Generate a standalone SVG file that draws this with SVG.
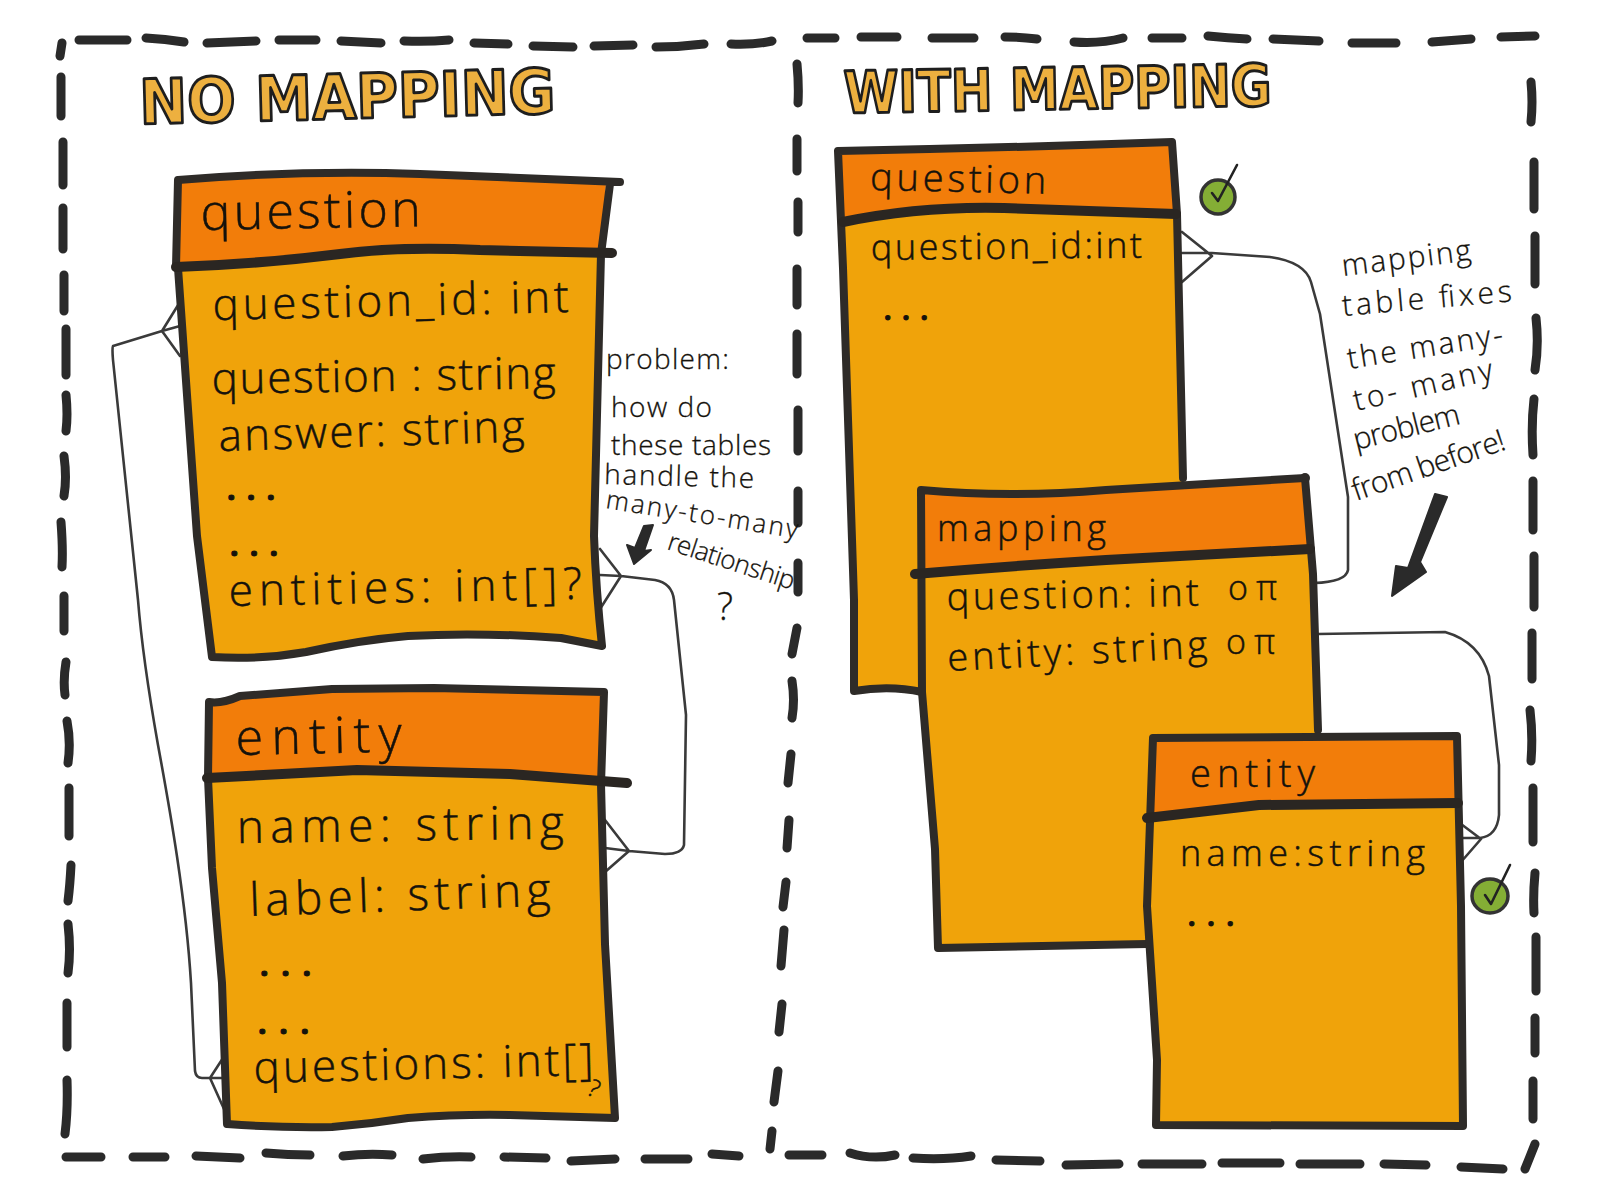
<svg xmlns="http://www.w3.org/2000/svg" width="1600" height="1200" viewBox="0 0 1600 1200">
<style>
.bg{fill:#fff}
.dash{fill:none;stroke:#2a2a2a;stroke-width:9;stroke-linecap:round}
.head{fill:#F27D0A}
.body{fill:#F0A30A}
.edge{fill:none;stroke:#2e2b28;stroke-width:8;stroke-linecap:round;stroke-linejoin:round}
.rule{fill:none;stroke:#2a2622;stroke-width:10;stroke-linecap:round;stroke-linejoin:round}
.conn{fill:none;stroke:#3a3a3a;stroke-width:2.6;stroke-linecap:round;stroke-linejoin:round}
.t{font-family:"Open Sans","Noto Sans",sans-serif;font-weight:300;fill:#15120c;stroke:#15120c;stroke-width:.5}
.dots{font-family:"Open Sans","Noto Sans",sans-serif;font-weight:700;fill:#15120c;stroke:#15120c;stroke-width:1}
.note{font-family:"Open Sans","Noto Sans",sans-serif;font-weight:300;fill:#15120c;stroke:#15120c;stroke-width:.3}
.title{font-family:"DejaVu Sans",sans-serif;font-weight:700;fill:#EDB03F;stroke:#1e1e1e;stroke-width:3;stroke-linejoin:round}
.ok{fill:#84AE35;stroke:#333;stroke-width:3.5}
.tick{fill:none;stroke:#222;stroke-width:2.6;stroke-linecap:round;stroke-linejoin:round}
.ink{fill:#2a2a2a;stroke:#2a2a2a;stroke-width:2;stroke-linejoin:round}
</style>
<rect class="bg" width="1600" height="1200"/>
<g id="frame">
<path class="dash" d="M79 40H127M146 38Q165 39 184 42M207 43L256 41M279 40H316M341 41L381 43M404 41Q428 42 449 40M474 43L508 44M533 46L573 47M594 46L633 45M656 47Q680 47 704 44M731 44Q755 45 772 41"/>
<path class="dash" d="M807 38H835M861 37H897M932 38H974M1005 37Q1020 37 1037 39M1074 42Q1100 44 1123 38M1152 38H1182M1208 36Q1228 38 1247 39M1273 39L1319 41M1352 43H1396M1432 42L1471 39M1501 37L1535 36"/>
<path class="dash" d="M62 43L60 56M61 77V116M63 142V185M63 208V249M64 275V311M66 329V375M66 395Q68 415 66 431M64 456Q67 478 64 496M61 522Q63 548 62 567M64 596V631M66 662Q63 680 65 695M67 721Q71 742 68 763M69 788V836M71 865Q70 885 68 901M68 924Q71 950 68 973M67 1003V1047M67 1080Q68 1110 65 1134"/>
<path class="dash" d="M797 64Q799 85 798 103M797 139V171M798 202V232M797 269V305M797 334V374M798 410V451M798 491V523M798 563V592M797 628L792 654M792 681Q795 700 792 718M791 754L788 783M789 820L787 848M786 882L783 907M784 930L781 966M782 1004L779 1032M778 1071L774 1102M772 1131L770 1149"/>
<path class="dash" d="M1531 82Q1533 102 1531 122M1534 162V209M1535 236V284M1536 318Q1539 345 1535 370M1534 399Q1531 425 1533 455M1533 481V530M1534 556V607M1532 633V679M1530 710Q1533 735 1531 761M1533 788V842M1535 873Q1533 895 1534 913M1536 937V991M1535 1018V1053M1533 1081V1119M1535 1144L1525 1169"/>
<path class="dash" d="M66 1157H101M133 1157H165M196 1156L240 1158M266 1153Q288 1155 310 1155M343 1156Q368 1153 392 1155M423 1159Q448 1156 471 1157M504 1157L546 1158M571 1161L615 1159M645 1159H688M712 1154L739 1156M789 1155H822M850 1153Q872 1160 895 1155M913 1158Q945 1160 971 1156M996 1160L1040 1161M1066 1165L1119 1164M1142 1164H1202M1222 1163H1280M1300 1164L1360 1164M1384 1164L1426 1165M1461 1167L1503 1169"/>
</g>
<g id="connectors">
<path class="conn" d="M180 302L162 331L180 356M180 326L162 331L113 346Q112 348 113 360L138 600C142 650 150 700 158 745C170 810 186 900 191 983L195 1071Q196 1078 202 1078H224M225 1055L210 1078L224 1109"/>
<path class="conn" d="M600 549L621 576L600 609M600 575L621 576L655 580Q672 583 674 600L686 715L684 845Q682 854 665 854L629 851M605 820L629 851L605 872M605 848L629 851"/>
<path class="conn" d="M1182 232L1212 256L1182 282M1182 253L1212 253L1270 257Q1305 262 1311 282L1320 314L1348 497V570Q1346 582 1314 583"/>
<path class="conn" d="M1318 634L1445 632Q1480 642 1489 676L1499 765V815Q1497 836 1480 838H1459M1461 824L1481 839L1461 862"/>
</g>
<g id="question-left">
<path class="body" d="M176 240L197 536L212 657Q260 660 306 652Q360 640 408 636Q480 632 561 638L602 646Q596 590 594 536L601 240Z"/>
<path class="head" d="M178 180Q300 170 420 174L606 184L601 253L480 250Q400 246 340 254Q260 264 176 267Z"/>
<path class="edge" d="M176 267L178 180Q300 170 420 174L620 182M610 184L601 254L594 536Q596 590 602 646L561 638Q480 632 408 636Q360 640 306 652Q260 660 212 657L197 536L178 268"/>
<path class="rule" d="M176 267Q260 264 340 254Q400 246 480 250L612 253"/>
<text class="t" font-size="50" x="201" y="230" textLength="220" transform="rotate(-1 201 230)">question</text>
<text class="t" font-size="44" x="213" y="320" textLength="356" transform="rotate(-1.3 213 320)">question_id: int</text>
<text class="t" font-size="44" x="212" y="394" textLength="344" transform="rotate(-1 212 394)">question : string</text>
<text class="t" font-size="44" x="219" y="451" textLength="306" transform="rotate(-1.8 219 451)">answer: string</text>
<text class="dots" font-size="30" x="227" y="500" textLength="48">...</text>
<text class="dots" font-size="30" x="230" y="556" textLength="48">...</text>
<text class="t" font-size="44" x="229" y="606" textLength="353" transform="rotate(-1.2 229 606)">entities: int[]?</text>
</g>
<g id="entity-left">
<path class="body" d="M208 760L212 868L222 983L227 1124Q280 1128 332 1127Q370 1124 408 1118Q460 1114 510 1115L615 1118L605 944L601 760Z"/>
<path class="head" d="M209 702Q222 704 240 696L332 689L434 688L604 692L601 780L510 774L357 770L208 778Z"/>
<path class="edge" d="M208 778L209 702Q222 704 240 696L332 689L434 688L604 692L601 784L605 944L615 1118L510 1115Q460 1114 408 1118Q370 1124 332 1127Q280 1128 227 1124L222 983L212 868L208 778"/>
<path class="rule" d="M207 778L357 770L510 774L627 783"/>
<text class="t" font-size="50" x="236" y="755" textLength="166" transform="rotate(-1.2 236 755)">entity</text>
<text class="t" font-size="46" x="237" y="843" textLength="327" transform="rotate(-.8 237 843)">name: string</text>
<text class="t" font-size="46" x="250" y="916" textLength="301" transform="rotate(-2 250 916)">label: string</text>
<text class="dots" font-size="30" x="260" y="976" textLength="51">...</text>
<text class="dots" font-size="30" x="258" y="1034" textLength="51">...</text>
<text class="t" font-size="44" x="254" y="1083" textLength="340" transform="rotate(-1.4 254 1083)">questions: int[]</text>
<text class="t" font-size="24" x="586" y="1094" transform="rotate(25 586 1094)">?</text>
</g>
<g id="question-right">
<path class="body" d="M842 190L843 268L854 600V691Q890 685 930 692V510L1183 510L1177 190Z"/>
<path class="head" d="M838 151Q1000 148 1172 142L1177 214L1004 208Q920 206 843 222Z"/>
<path class="edge" d="M838 151Q1000 148 1172 142L1177 214L1183 478M838 151L843 268L854 600L854 691Q890 685 922 692"/>
<path class="rule" d="M843 222Q920 206 1004 208L1176 214"/>
<text class="t" font-size="38" x="870" y="190" textLength="176" transform="rotate(1.2 870 190)">question</text>
<text class="t" font-size="36" x="871" y="260" textLength="271" transform="rotate(-.5 871 260)">question_id:int</text>
<text class="dots" font-size="26" x="884" y="320" textLength="44">...</text>
</g>
<g id="mapping">
<path class="body" d="M921 540L922 692L935 849L938 948L1160 944V760L1318 760L1312 540Z"/>
<path class="head" d="M921 490Q1010 498 1106 490L1305 478L1310 549L1106 560Q1010 566 921 574Z"/>
<path class="edge" d="M921 490Q1010 498 1106 490L1305 478L1313 574L1318 730M921 490L922 692L935 849L938 948L1147 944"/>
<path class="rule" d="M915 574Q1010 566 1106 560L1310 549"/>
<circle cx="1305" cy="478" r="5" fill="#2e2b28"/>
<text class="t" font-size="36" x="937" y="541" textLength="169">mapping</text>
<text class="t" font-size="38" x="947" y="610" textLength="252" transform="rotate(-1 947 610)">question: int</text>
<text class="t" font-size="34" x="1228" y="600" textLength="49">oπ</text>
<text class="t" font-size="38" x="948" y="671" textLength="260" transform="rotate(-3 948 671)">entity: string</text>
<text class="t" font-size="34" x="1226" y="654" textLength="49">oπ</text>
</g>
<g id="entity-right">
<path class="body" d="M1150 790L1147 906L1157 1124L1463 1124L1461 906L1458 790Z"/>
<path class="head" d="M1154 740L1456 738L1458 803L1259 805L1150 818Z"/>
<path class="edge" d="M1153 738L1457 736L1461 906L1463 1126L1156 1125L1157 1060L1147 906L1153 738"/>
<path class="rule" d="M1147 818L1259 805L1458 803"/>
<text class="t" font-size="38" x="1190" y="787" textLength="125">entity</text>
<text class="t" font-size="36" x="1180" y="866" textLength="245">name:string</text>
<text class="dots" font-size="26" x="1188" y="926" textLength="46">...</text>
</g>
<g id="check-question">
<ellipse class="ok" cx="1218" cy="197" rx="17" ry="17"/>
<path class="tick" d="M1212 193L1218 201L1237 165"/>
</g>
<g id="check-entity">
<ellipse class="ok" cx="1490" cy="896" rx="18" ry="17"/>
<path class="tick" d="M1485 895L1491 904L1510 865"/>
</g>
<g id="note-problem">
<text class="note" font-size="28" x="606" y="369" textLength="123">problem:</text>
<text class="note" font-size="28" x="611" y="417" textLength="101">how do</text>
<text class="note" font-size="28" x="611" y="455" textLength="160">these tables</text>
<text class="note" font-size="28" x="604" y="484" textLength="150" transform="rotate(1.5 604 484)">handle the</text>
<text class="note" font-size="26" x="605" y="508" textLength="194" transform="rotate(9 605 508)">many-to-many</text>
<text class="note" font-size="26" x="666" y="549" textLength="132" transform="rotate(18 666 549)">relationship</text>
<text class="note" font-size="38" x="717" y="620" font-weight="700">?</text>
<path class="ink" d="M644 526L653 525L644 551L651 550L634 564L627 545L635 548Z"/>
</g>
<g id="note-mapping">
<text class="note" font-size="30" x="1343" y="276" textLength="130" transform="rotate(-7 1343 276)">mapping</text>
<text class="note" font-size="30" x="1343" y="316" textLength="170" transform="rotate(-5 1343 316)">table fixes</text>
<text class="note" font-size="30" x="1349" y="369" textLength="157" transform="rotate(-9 1349 369)">the many-</text>
<text class="note" font-size="30" x="1356" y="411" textLength="142" transform="rotate(-13 1356 411)">to- many</text>
<text class="note" font-size="30" x="1356" y="450" textLength="109" transform="rotate(-14 1356 450)">problem</text>
<text class="note" font-size="30" x="1356" y="501" textLength="160" transform="rotate(-19 1356 501)">from before!</text>
<path class="ink" d="M1435 494L1447 497L1420 562L1426 572L1392 596L1396 566L1408 568Z"/>
</g>
<g id="titles">
<text class="title" font-size="62" x="140" y="124" textLength="416" lengthAdjust="spacingAndGlyphs" transform="rotate(-1.5 140 124)">NO MAPPING</text>
<text class="title" font-size="58" x="844" y="113" textLength="428" lengthAdjust="spacingAndGlyphs" transform="rotate(-1 844 113)">WITH MAPPING</text>
</g>
</svg>
